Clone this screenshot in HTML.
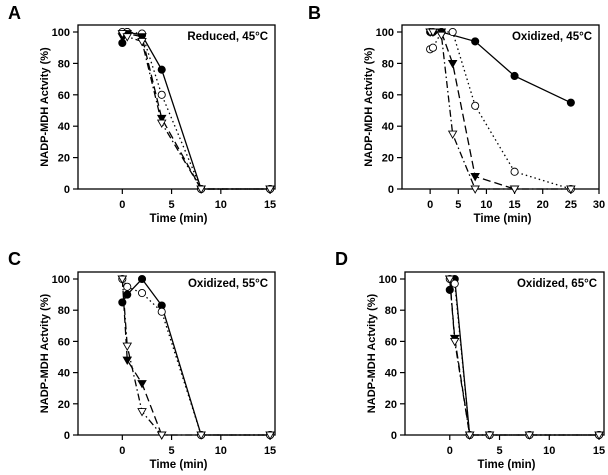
<!DOCTYPE html>
<html><head><meta charset="utf-8">
<style>
html,body{margin:0;padding:0;background:#fff;}
svg{display:block;font-family:"Liberation Sans",Arial,sans-serif;font-weight:bold;}
</style></head>
<body>
<svg id="fig" width="608" height="475" viewBox="0 0 608 475" xmlns="http://www.w3.org/2000/svg"></svg>
<script>
// ---- data ----
const panelLetters = ["A","B","C","D"];
const panelTitles = ["Reduced, 45°C","Oxidized, 45°C","Oxidized, 55°C","Oxidized, 65°C"];
const xTicksA = [0,5,10,15];
const xTicksB = [0,5,10,15,20,25,30];
const yTicks = [0,20,40,60,80,100];
// panel A
const aFilledCircX=[0,0.5,2,4,8,15], aFilledCircY=[93,100,98,76,0,0];
const aOpenCircX=[0,0.5,2,4,8,15], aOpenCircY=[100,100,99,60,0,0];
const aFilledTriX=[0,0.5,2,4,8,15], aFilledTriY=[97,99,97,45,0,0];
const aOpenTriX=[0,0.5,2,4,8,15], aOpenTriY=[99,97,94,42,0,0];
// panel B
const bFilledCircX=[0,0.5,2,8,15,25], bFilledCircY=[100,100,100,94,72,55];
const bOpenCircX=[0,0.5,2,4,8,15,25], bOpenCircY=[89,90,100,100,53,11,0];
const bFilledTriX=[0,0.5,2,4,8,15], bFilledTriY=[100,100,100,80,8,0];
const bOpenTriX=[0,0.5,2,4,8,15,25], bOpenTriY=[100,100,98,35,0,0,0];
// panel C
const cFilledCircX=[0,0.5,2,4,8,15], cFilledCircY=[85,90,100,83,0,0];
const cOpenCircX=[0,0.5,2,4,8,15], cOpenCircY=[100,95,91,79,0,0];
const cFilledTriX=[0,0.5,2,4], cFilledTriY=[100,48,33,0];
const cOpenTriX=[0,0.5,2,4,8,15], cOpenTriY=[100,57,15,0,0,0];
// panel D
const dFilledCircX=[0,0.5,2,4,8,15], dFilledCircY=[93,100,0,0,0,0];
const dOpenCircX=[0,0.5,2,4,8,15], dOpenCircY=[100,97,0,0,0,0];
const dFilledTriX=[0,0.5,2], dFilledTriY=[100,62,0];
const dOpenTriX=[0,0.5,2,4,8,15], dOpenTriY=[100,60,0,0,0,0];

const NS="http://www.w3.org/2000/svg";
const svg=document.getElementById('fig');
function mk(tag,attrs,parent){const e=document.createElementNS(NS,tag);for(const k in attrs)e.setAttribute(k,attrs[k]);(parent||svg).appendChild(e);return e;}

const layouts=[
 {L:78,R:275,T:25,B:189,x0:-4.5,x1:15.5,y0:189,y100:32,ticks:xTicksA,ox:0,oy:0},
 {L:402,R:599,T:25,B:189,x0:-5,x1:30,y0:189,y100:32,ticks:xTicksB,ox:300,oy:0},
 {L:78,R:275,T:272,B:435,x0:-4.5,x1:15.5,y0:435,y100:279,ticks:xTicksA,ox:0,oy:246},
 {L:405,R:604,T:272,B:435,x0:-4.5,x1:15.5,y0:435,y100:279,ticks:xTicksA,ox:327,oy:246}
];
const seriesSets=[
 [[aFilledCircX,aFilledCircY],[aOpenCircX,aOpenCircY],[aFilledTriX,aFilledTriY],[aOpenTriX,aOpenTriY]],
 [[bFilledCircX,bFilledCircY],[bOpenCircX,bOpenCircY],[bFilledTriX,bFilledTriY],[bOpenTriX,bOpenTriY]],
 [[cFilledCircX,cFilledCircY],[cOpenCircX,cOpenCircY],[cFilledTriX,cFilledTriY],[cOpenTriX,cOpenTriY]],
 [[dFilledCircX,dFilledCircY],[dOpenCircX,dOpenCircY],[dFilledTriX,dFilledTriY],[dOpenTriX,dOpenTriY]]
];
const styles=[
 {name:'filled-circle',dash:'',fill:'#000',shape:'circ'},
 {name:'open-circle',dash:'1.5,3',fill:'#fff',shape:'circ'},
 {name:'filled-triangle',dash:'8,4',fill:'#000',shape:'tri'},
 {name:'open-triangle',dash:'7,3,1.5,3',fill:'#fff',shape:'tri'}
];

layouts.forEach((p,i)=>{
  const g=mk('g',{});
  
  
  const sx=v=>p.L+(v-p.x0)/(p.x1-p.x0)*(p.R-p.L);
  const sy=v=>p.y0-(v/100)*(p.y0-p.y100);
  const letter=mk('text',{x:p.ox+8,y:p.oy+19,'font-size':18,fill:'#000'},g);
  letter.textContent=panelLetters[i];
  
  
  const box=mk('rect',{x:p.L,y:p.T,width:p.R-p.L,height:p.B-p.T,fill:'none',stroke:'#000','stroke-width':1.3},g);
  
  
  yTicks.forEach(t=>{
    mk('line',{x1:p.L-5,x2:p.L,y1:sy(t),y2:sy(t),stroke:'#000','stroke-width':1.2},g);
    const tx=mk('text',{x:p.L-8,y:sy(t)+4,'font-size':11,'text-anchor':'end'},g);
    tx.textContent=t;
    
    
  });
  p.ticks.forEach(t=>{
    mk('line',{x1:sx(t),x2:sx(t),y1:p.B,y2:p.B+5,stroke:'#000','stroke-width':1.2},g);
    const tx=mk('text',{x:sx(t),y:p.B+19,'font-size':11,'text-anchor':'middle'},g);
    tx.textContent=t;
    
    
  });
  const xl=mk('text',{x:(p.L+p.R)/2+2,y:p.B+33,'font-size':11.5,'text-anchor':'middle'},g);
  xl.textContent='Time (min)';
  
  
  const yc=(p.T+p.B)/2;
  const yl=mk('text',{x:p.L-30,y:yc,'font-size':11,'text-anchor':'middle',transform:`rotate(-90 ${p.L-30} ${yc})`},g);
  yl.textContent='NADP-MDH Actvity (%)';
  
  
  const tt=mk('text',{x:p.R-7,y:p.T+15,'font-size':11.5,'text-anchor':'end'},g);
  tt.textContent=panelTitles[i];
  
  
  seriesSets[i].forEach((s,k)=>{
    const st=styles[k];
    const xs=s[0],ys=s[1];
    const pts=xs.map((x,j)=>sx(x)+','+sy(ys[j])).join(' ');
    const pl=mk('polyline',{points:pts,fill:'none',stroke:'#000','stroke-width':1.3,'stroke-dasharray':st.dash},g);
    
    
  });
  seriesSets[i].forEach((s,k)=>{
    const st=styles[k];
    const xs=s[0],ys=s[1];
    xs.forEach((x,j)=>{
      const cx=sx(x),cy=sy(ys[j]);
      let m;
      if(st.shape==='circ') m=mk('circle',{cx:cx,cy:cy,r:3.6,fill:st.fill,stroke:'#000','stroke-width':0.9},g);
      else m=mk('polygon',{points:`${cx-4},${cy-3} ${cx+4},${cy-3} ${cx},${cy+4}`,fill:st.fill,stroke:'#000','stroke-width':0.9},g);
      
      
    });
  });
});
</script>
</body></html>
